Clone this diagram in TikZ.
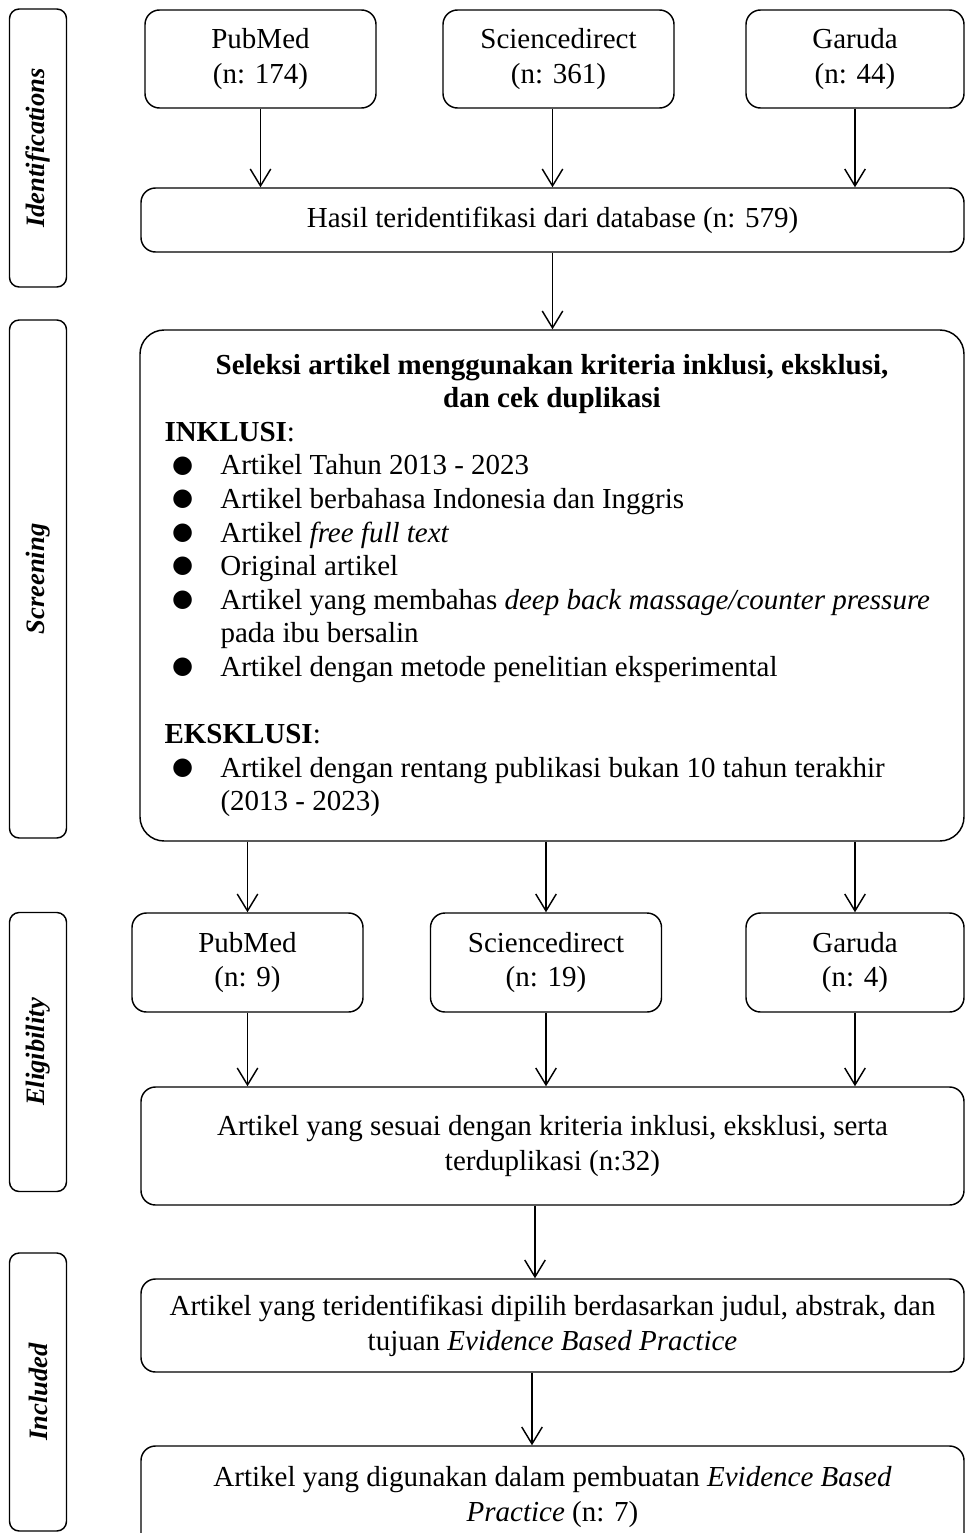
\documentclass[tikz,border=0pt]{standalone}
\usepackage{fontspec}
\setmainfont{Liberation Serif}
\newfontfamily\dotfont{DejaVu Sans}
\usetikzlibrary{arrows.meta}

\def\pxl{0.4138pt}
\newcommand\blt{\hspace*{3.2pt}\makebox[19.9pt][l]{\raisebox{1.2pt}{\dotfont\fontsize{10}{10}\selectfont ●}}}
\newcommand\hangln{\hspace*{23.2pt}}

\tikzset{
  dbbox/.style={draw, line width=0.6pt, rounded corners=6pt, align=center, inner sep=0pt, font=\fontsize{12}{14.4}\selectfont},
  phasebox/.style={draw, line width=0.6pt, rounded corners=4pt, rotate=90, inner sep=0pt, minimum height=57*\pxl, font=\bfseries\itshape\fontsize{11}{13}\selectfont},
  flow/.style={-{Straight Barb[length=7pt,width=8.5pt]}, line width=0.6pt}
}

\begin{document}
\begin{tikzpicture}[x=\pxl,y=-\pxl]
\useasboundingbox (0,0) rectangle (965,1533);

\path (38,148) node[phasebox, minimum width=278*\pxl](Ident){Identifications} (38,579) node[phasebox, minimum width=518*\pxl](Screen){Screening} (38,1052) node[phasebox, minimum width=279*\pxl](Elig){Eligibility} (38,1392) node[phasebox, minimum width=278*\pxl](Incl){Included};

\path (260.5,59) node[dbbox, minimum width=231*\pxl, minimum height=98*\pxl](PubMedA){PubMed\\(n: 174)} (558.5,59) node[dbbox, minimum width=231*\pxl, minimum height=98*\pxl](ScienceA){Sciencedirect\\(n: 361)} (855,59) node[dbbox, minimum width=218*\pxl, minimum height=98*\pxl](GarudaA){Garuda\\(n: 44)} (552.5,220) node[dbbox, minimum width=823*\pxl, minimum height=64*\pxl](Hasil){Hasil teridentifikasi dari database (n: 579)};

\path (552,585.5) node[dbbox, rounded corners=10pt, align=flush left, text width=775*\pxl, minimum width=824*\pxl, minimum height=511*\pxl, font=\fontsize{12}{13.9}\selectfont](Seleksi){\makebox[\linewidth]{\textbf{Seleksi artikel menggunakan kriteria inklusi, eksklusi,}}\\
\makebox[\linewidth]{\textbf{dan cek duplikasi}}\\
\textbf{INKLUSI}:\\
\blt Artikel Tahun 2013 - 2023\\
\blt Artikel berbahasa Indonesia dan Inggris\\
\blt Artikel \textit{free full text}\\
\blt Original artikel\\
\mbox{\blt Artikel yang membahas \textit{deep back massage/counter pressure}}\\
\hangln pada ibu bersalin\\
\blt Artikel dengan metode penelitian eksperimental\\
\mbox{}\\
\textbf{EKSKLUSI}:\\
\blt Artikel dengan rentang publikasi bukan 10 tahun terakhir\\
\hangln (2013 - 2023)};

\path (247.5,962.5) node[dbbox, minimum width=231*\pxl, minimum height=99*\pxl](PubMedB){PubMed\\(n: 9)} (546,962.5) node[dbbox, minimum width=231*\pxl, minimum height=99*\pxl](ScienceB){Sciencedirect\\(n: 19)} (855,962.5) node[dbbox, minimum width=218*\pxl, minimum height=99*\pxl](GarudaB){Garuda\\(n: 4)} (552.5,1146) node[dbbox, minimum width=823*\pxl, minimum height=118*\pxl](Sesuai){Artikel yang sesuai dengan kriteria inklusi, eksklusi, serta\\terduplikasi (n:32)};

\path (552.5,1325.5) node[dbbox, minimum width=823*\pxl, minimum height=93*\pxl](Pilih){Artikel yang teridentifikasi dipilih berdasarkan judul, abstrak, dan\\tujuan \textit{Evidence Based Practice}} (552.5,1497) node[dbbox, minimum width=823*\pxl, minimum height=102*\pxl](Pakai){Artikel yang digunakan dalam pembuatan \textit{Evidence Based}\\\textit{Practice} (n: 7)};

\draw[flow] (PubMedA) -- (PubMedA |- Hasil.north);
\draw[flow] (ScienceA.south -| Hasil.north) -- (Hasil.north);
\draw[flow] (GarudaA) -- (GarudaA |- Hasil.north);
\draw[flow] (Hasil.south) -- (Hasil.south |- Seleksi.north);
\draw[flow] (Seleksi.south -| PubMedB) -- (PubMedB);
\draw[flow] (Seleksi.south -| ScienceB) -- (ScienceB);
\draw[flow] (Seleksi.south -| GarudaB) -- (GarudaB);
\draw[flow] (PubMedB) -- (PubMedB |- Sesuai.north);
\draw[flow] (ScienceB) -- (ScienceB |- Sesuai.north);
\draw[flow] (GarudaB) -- (GarudaB |- Sesuai.north);
\draw[flow] (Sesuai.south -| 535,0) -- (Pilih.north -| 535,0);
\draw[flow] (Pilih.south -| 532,0) -- (Pakai.north -| 532,0);
\end{tikzpicture}
\end{document}
